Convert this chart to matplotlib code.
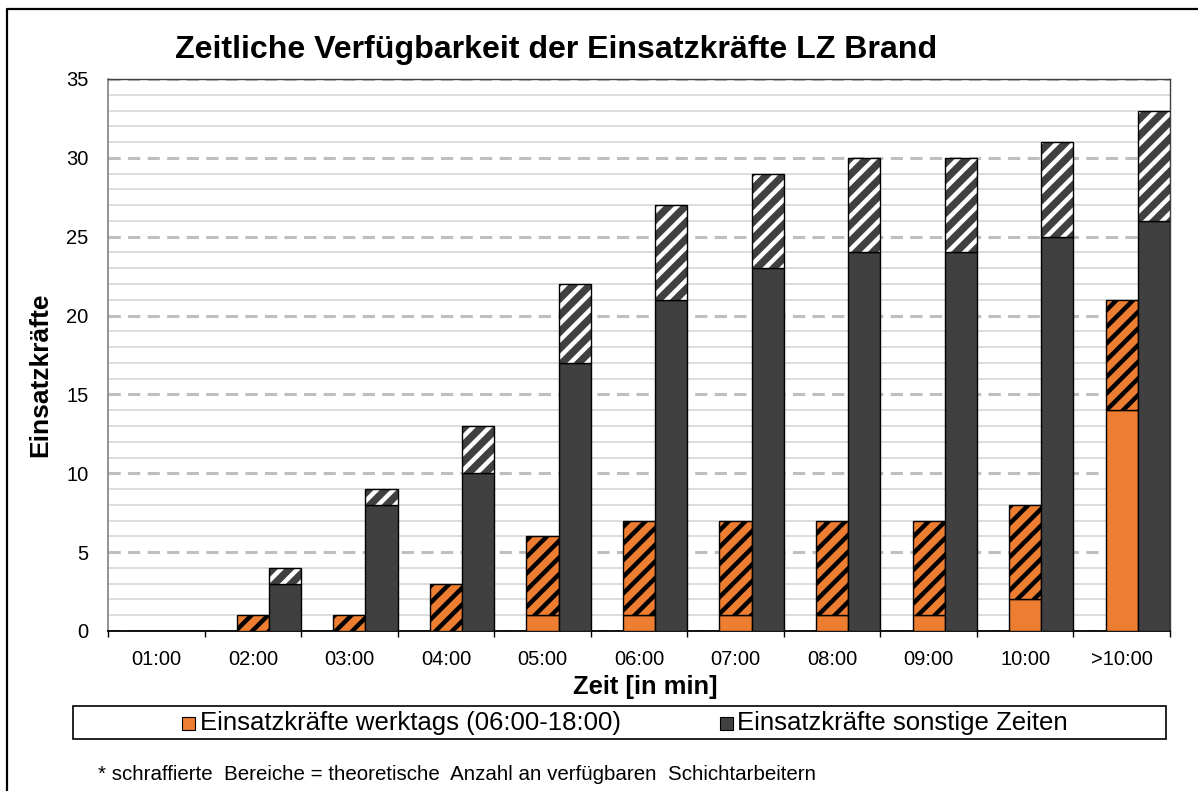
import matplotlib
matplotlib.use('Agg')
import matplotlib.pyplot as plt
from matplotlib.patches import Rectangle
from matplotlib.lines import Line2D
import numpy as np

categories = ['01:00', '02:00', '03:00', '04:00', '05:00', '06:00',
              '07:00', '08:00', '09:00', '10:00', '>10:00']
werktags_fest = [0, 0, 0, 0, 1, 1, 1, 1, 1, 2, 14]
werktags_schicht = [0, 1, 1, 3, 5, 6, 6, 6, 6, 6, 7]
sonstige_fest = [0, 3, 8, 10, 17, 21, 23, 24, 24, 25, 26]
sonstige_schicht = [0, 1, 1, 3, 5, 6, 6, 6, 6, 6, 7]

title = 'Zeitliche Verfügbarkeit der Einsatzkräfte LZ Brand'
xlabel = 'Zeit [in min]'
ylabel = 'Einsatzkräfte'
legend_labels = ['Einsatzkräfte werktags (06:00-18:00)', 'Einsatzkräfte sonstige Zeiten']
footnote = '* schraffierte  Bereiche = theoretische  Anzahl an verfügbaren  Schichtarbeitern'

plt.rcParams['font.family'] = ['Liberation Sans', 'DejaVu Sans']
plt.rcParams['hatch.linewidth'] = 3.2

ORANGE = '#ED7D31'
DARK = '#404040'

W, H = 1198, 791
fig = plt.figure(figsize=(W / 100, H / 100), dpi=100)
ax = fig.add_axes([108 / W, 1 - 631 / H, (1170 - 108) / W, (631 - 79) / H])

x = np.arange(len(categories))
bw = 1 / 3
fest_w = np.array(werktags_fest)
fest_s = np.array(sonstige_fest)

# Orange (werktags)
ax.bar(x, werktags_fest, bw, color=ORANGE, edgecolor='black', lw=1, zorder=3)
ax.bar(x, werktags_schicht, bw, bottom=fest_w, color=ORANGE, edgecolor='black',
       hatch='//', lw=1, zorder=3)

# Dark (sonstige)
ax.bar(x + bw, sonstige_fest, bw, color=DARK, edgecolor='black', lw=1, zorder=3)
ax.bar(x + bw, sonstige_schicht, bw, bottom=fest_s, color=DARK, edgecolor='white',
       hatch='//', lw=0, zorder=3)
ax.bar(x + bw, sonstige_schicht, bw, bottom=fest_s, fill=False, edgecolor='black',
       lw=1, zorder=4)

ax.set_xlim(-0.5, len(categories) - 0.5)
ax.set_ylim(0, 35)
ax.set_yticks(np.arange(0, 36, 5))
ax.set_yticks(np.arange(0, 36, 1), minor=True)
ax.set_xticks(x)
ax.set_xticklabels(categories)
ax.set_xticks(np.arange(-0.5, len(categories), 1), minor=True)

ax.tick_params(axis='x', which='major', length=0, pad=14, labelsize=14.5)
ax.tick_params(axis='x', which='minor', length=4, width=1, direction='out', color='black')
ax.tick_params(axis='y', which='both', length=0)
ax.tick_params(axis='y', which='major', pad=14, labelsize=14.5)

ax.grid(which='minor', axis='y', color='#d9d9d9', lw=1.3, zorder=0)
ax.grid(which='major', axis='y', color='#bfbfbf', lw=2.2, linestyle=(0, (4, 2.4)), zorder=1)
ax.set_axisbelow(True)

for s in ['top', 'right']:
    ax.spines[s].set_color('#404040')
    ax.spines[s].set_linewidth(1)
ax.spines['left'].set_color('#808080')
ax.spines['left'].set_linewidth(1.2)
ax.spines['bottom'].set_color('black')
ax.spines['bottom'].set_linewidth(1.3)

# Title and labels
fig.text(556 / W, 1 - 50 / H, title, ha='center', va='center', fontsize=23.1, weight='bold')
fig.text(40 / W, 1 - 375 / H, ylabel, rotation=90, ha='center', va='center',
         fontsize=19, weight='bold')
fig.text(645 / W, 1 - 687 / H, xlabel, ha='center', va='center', fontsize=18.4, weight='bold')

# Legend box
fig.patches.append(Rectangle((73 / W, 1 - 739 / H), (1166 - 73) / W, 33 / H,
                             transform=fig.transFigure, facecolor='white',
                             edgecolor='black', lw=1.2))
for (mx, tx), col, lab in zip([(182, 200), (720, 737)], [ORANGE, DARK], legend_labels):
    fig.patches.append(Rectangle((mx / W, 1 - 730 / H), 13 / W, 13 / H,
                                 transform=fig.transFigure, facecolor=col,
                                 edgecolor='black', lw=0.8))
    fig.text(tx / W, 1 - 723 / H, lab, ha='left', va='center', fontsize=18.5)

# Footnote
fig.text(98 / W, 1 - 775 / H, footnote, ha='left', va='center', fontsize=14.8)

# Outer frame (left and top)
fig.add_artist(Line2D([7 / W, 7 / W, 1], [0, 1 - 9 / H, 1 - 9 / H],
                      transform=fig.transFigure, color='black', lw=1.6))

fig.savefig('out.png', dpi=100)
